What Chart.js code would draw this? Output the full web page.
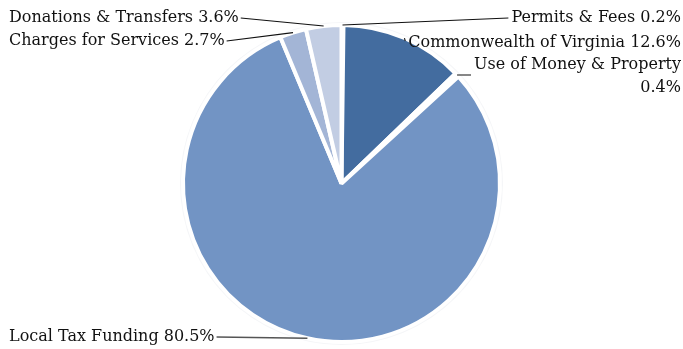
<!DOCTYPE html>
<html>
<head>
<meta charset="utf-8">
<script src="https://cdn.jsdelivr.net/npm/chart.js@4"></script>
<style>
  html, body { margin: 0; padding: 0; background: #fff; }
  #wrap { width: 683px; height: 349px; }
</style>
</head>
<body>
<div id="wrap"><canvas id="revenue-chart" width="683" height="349"></canvas></div>
<script>
// revenue sources, clockwise from 12 o'clock
const categories = [
    'Permits & Fees',
    'Commonwealth of Virginia',
    'Use of Money & Property',
    'Local Tax Funding',
    'Charges for Services',
    'Donations & Transfers'
];
const shares = [0.2, 12.6, 0.4, 80.5, 2.7, 3.6];
const sliceColors = ['#5a80b4', '#436c9f', '#5f86bb', '#7294c4', '#a3b5d6', '#c2cde3'];

// where each label sits: [x, y of first line, align, leader end y offset]
const labelSpots = [
    [681, 18, 'right', 0],
    [681, 43, 'right', -2],
    [681, 65, 'right', 10],
    [9, 337, 'left', 0],
    [9, 41, 'left', 0],
    [9, 18, 'left', 0]
];

const labelFont = '16px "DejaVu Serif"';

const leaderLabels = {
    id: 'leaderLabels',
    afterDatasetsDraw(chart) {
        const ctx = chart.ctx;
        const arcs = chart.getDatasetMeta(0).data;
        ctx.save();
        ctx.font = labelFont;
        ctx.fillStyle = '#111';
        ctx.textBaseline = 'middle';
        arcs.forEach((arc, i) => {
            const [lx, ly, align, dy] = labelSpots[i];
            const mid = (arc.startAngle + arc.endAngle) / 2;
            const r = arc.outerRadius;
            const px = arc.x + Math.cos(mid) * r;
            const py = arc.y + Math.sin(mid) * r;
            let lines = [categories[i] + ' ' + shares[i].toFixed(1) + '%'];
            if (i === 2) lines = [categories[i], shares[i].toFixed(1) + '%'];
            const w = ctx.measureText(lines[0]).width;
            const endX = align === 'left' ? lx + w + 2 : lx - w - 3;
            ctx.strokeStyle = i === 3 ? '#555' : '#111';
            ctx.lineWidth = i === 3 ? 1.6 : 1.1;
            ctx.beginPath();
            ctx.moveTo(px, py);
            ctx.lineTo(endX, ly + dy);
            ctx.stroke();
            ctx.textAlign = align;
            lines.forEach((t, k) => ctx.fillText(t, lx, ly + k * 23));
        });
        ctx.restore();
    }
};

// faint ring round the pie
const outerRing = {
    id: 'outerRing',
    beforeDatasetsDraw(chart) {
        const arc = chart.getDatasetMeta(0).data[0];
        const ctx = chart.ctx;
        ctx.save();
        ctx.beginPath();
        ctx.arc(arc.x, arc.y, arc.outerRadius + 3, 0, Math.PI * 2);
        ctx.fillStyle = '#f5f6f8';
        ctx.fill();
        ctx.restore();
    }
};

new Chart(document.getElementById('revenue-chart'), {
    type: 'pie',
    data: {
        labels: categories,
        datasets: [{
            data: shares,
            backgroundColor: sliceColors,
            borderColor: '#ffffff',
            borderWidth: 4
        }]
    },
    options: {
        responsive: false,
        animation: false,
        layout: { padding: { top: 23, bottom: 5 } },
        plugins: {
            legend: { display: false },
            tooltip: { enabled: false }
        }
    },
    plugins: [outerRing, leaderLabels]
});
</script>
</body>
</html>
